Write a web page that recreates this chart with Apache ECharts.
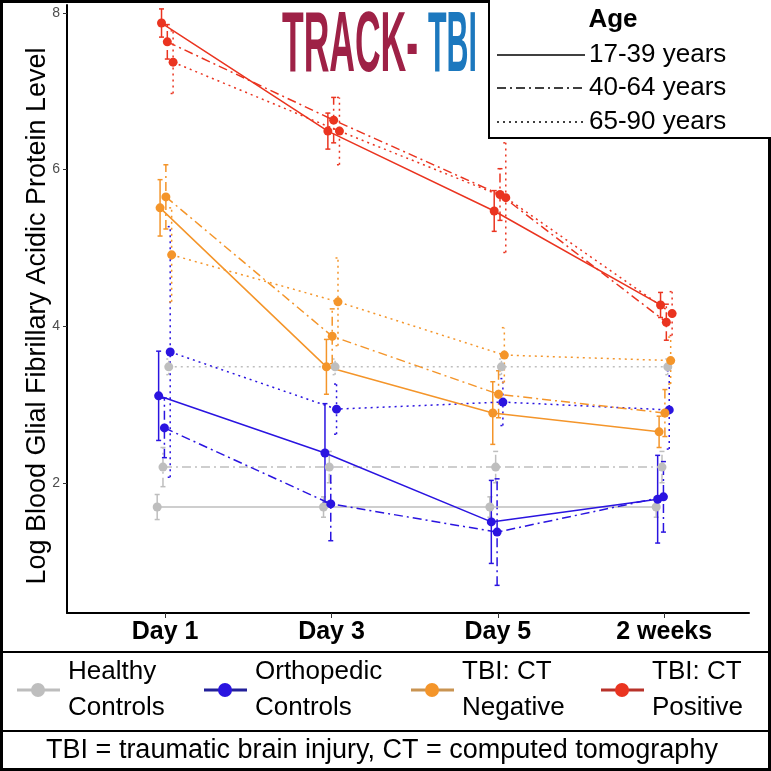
<!DOCTYPE html>
<html>
<head>
<meta charset="utf-8">
<script src="https://cdn.jsdelivr.net/npm/echarts@6/dist/echarts.min.js"></script>
<style>
  html, body { margin: 0; padding: 0; background: #fff; }
  #chart { width: 771px; height: 771px; }
</style>
</head>
<body>
<div id="chart"></div>
<script>
var days = ['Day 1', 'Day 3', 'Day 5', '2 weeks'];
var groups = ['Healthy\nControls', 'Orthopedic\nControls', 'TBI: CT\nNegative', 'TBI: CT\nPositive'];
var ages = ['17-39 years', '40-64 years', '65-90 years'];
var yTicks = [2, 4, 6, 8];
var yTitle = 'Log Blood Glial Fibrillary Acidic Protein Level';

// rows = age bands (17-39, 40-64, 65-90), columns = days
var healthyMean = [[1.69, 1.69, 1.69, 1.69], [2.20, 2.20, 2.20, 2.20], [3.48, 3.48, 3.48, 3.48]];
var healthyErr  = [[0.16, 0.13, 0.13, 0.13], [0.25, 0.20, 0.20, 0.20], [0.10, 0.10, 0.10, 0.10]];
var orthoMean   = [[3.11, 2.38, 1.50, 1.79], [2.70, 1.73, 1.37, 1.82], [3.67, 2.94, 3.03, 2.93]];
var orthoErr    = [[0.57, 0.63, 0.53, 0.56], [0.38, 0.47, 0.68, 0.45], [1.60, 0.32, 0.30, 0.50]];
var ctNegMean   = [[5.51, 3.48, 2.89, 2.65], [5.65, 3.87, 3.13, 2.89], [4.91, 4.31, 3.63, 3.56]];
var ctNegErr    = [[0.36, 0.35, 0.40, 0.20], [0.41, 0.35, 0.30, 0.30], [0.60, 0.56, 0.35, 0.30]];
var ctPosMean   = [[7.87, 6.49, 5.47, 4.27], [7.63, 6.63, 5.68, 4.05], [7.37, 6.49, 5.64, 4.16]];
var ctPosErr    = [[0.18, 0.23, 0.26, 0.16], [0.22, 0.29, 0.33, 0.23], [0.40, 0.43, 0.70, 0.28]];

var means = [healthyMean, orthoMean, ctNegMean, ctPosMean];
var errs = [healthyErr, orthoErr, ctNegErr, ctPosErr];
var colors = ['#BEBEBE', '#2A14E0', '#F4952A', '#EA3420'];
var keyLineColors = ['#BDBDBD', '#22209A', '#C99452', '#B8322A'];
var dashes = ['solid', [9, 4, 2, 4], [2, 4]];
var FONT = '"Liberation Sans", Arial, sans-serif';
var dodge = 0.0087;

var myChart = echarts.init(document.getElementById('chart'));

function errorBar(color, dash) {
    return function(params, api) {
        var x = api.value(0);
        var lo = api.coord([x, api.value(1)]);
        var hi = api.coord([x, api.value(2)]);
        var cw = 2.5;
        var st = { stroke: color, lineWidth: 1.5, lineDash: dash === 'solid' ? null : dash };
        return {
            type: 'group',
            children: [
                { type: 'line', shape: { x1: lo[0], y1: lo[1], x2: hi[0], y2: hi[1] }, style: st },
                { type: 'line', shape: { x1: lo[0] - cw, y1: lo[1], x2: lo[0] + cw, y2: lo[1] }, style: st },
                { type: 'line', shape: { x1: hi[0] - cw, y1: hi[1], x2: hi[0] + cw, y2: hi[1] }, style: st }
            ]
        };
    };
}

var series = [];
for (var g = 0; g < groups.length; g++) {
    for (var a = 0; a < ages.length; a++) {
        var off = (a * 4 + g - 5.5) * dodge;
        var lineData = [], barData = [];
        for (var i = 0; i < days.length; i++) {
            var m = means[g][a][i], e = errs[g][a][i];
            lineData.push([i + 1 + off, m]);
            barData.push([i + 1 + off, m - e, m + e]);
        }
        series.push({
            type: 'custom',
            renderItem: errorBar(colors[g], dashes[a]),
            encode: { x: 0, y: [1, 2] },
            data: barData,
            silent: true
        });
        series.push({
            type: 'line',
            name: groups[g] + ' ' + ages[a],
            data: lineData,
            symbol: 'circle',
            symbolSize: 9,
            itemStyle: { color: colors[g] },
            lineStyle: { color: colors[g], width: 1.5, type: dashes[a] },
            silent: true
        });
    }
}

function textWidth(str, font) {
    var ctx = document.createElement('canvas').getContext('2d');
    ctx.font = font;
    return ctx.measureText(str).width;
}

var logoFont = 'bold 86px ' + FONT;
var graphics = [
    // outer frame and dividers
    { type: 'rect', shape: { x: 1.5, y: 1.5, width: 768, height: 768 }, style: { fill: null, stroke: '#000', lineWidth: 3 } },
    { type: 'line', shape: { x1: 0, y1: 652, x2: 771, y2: 652 }, style: { stroke: '#000', lineWidth: 2 } },
    { type: 'line', shape: { x1: 0, y1: 731, x2: 771, y2: 731 }, style: { stroke: '#000', lineWidth: 2 } },
    // y title
    { type: 'text', x: 38, y: 316, rotation: Math.PI / 2,
      style: { text: yTitle, font: '27px ' + FONT, fill: '#000', textAlign: 'center', textVerticalAlign: 'middle' } },
    // logo
    { type: 'text', x: 282, y: 47, scaleX: 136 / textWidth('TRACK-', logoFont),
      style: { text: 'TRACK-', font: logoFont, fill: '#9E2146', textVerticalAlign: 'middle' } },
    { type: 'text', x: 428, y: 47, scaleX: 49 / textWidth('TBI', logoFont),
      style: { text: 'TBI', font: logoFont, fill: '#1C78BE', textVerticalAlign: 'middle' } },
    // age key
    { type: 'rect', shape: { x: 489, y: -2, width: 284, height: 140 }, style: { fill: '#fff', stroke: '#000', lineWidth: 2 } },
    { type: 'text', x: 613, y: 20, style: { text: 'Age', font: 'bold 26px ' + FONT, fill: '#000', textAlign: 'center', textVerticalAlign: 'middle' } }
];
var keyY = [55, 88, 122];
ages.forEach(function(name, k) {
    graphics.push({ type: 'line', shape: { x1: 497, y1: keyY[k], x2: 585, y2: keyY[k] },
        style: { stroke: '#000', lineWidth: 1.5, lineDash: dashes[k] === 'solid' ? null : dashes[k] } });
    graphics.push({ type: 'text', x: 589, y: keyY[k],
        style: { text: name, font: '26px ' + FONT, fill: '#000', textVerticalAlign: 'middle' } });
});
// group key
var keyX = [17, 204, 411, 601];
groups.forEach(function(name, k) {
    var x0 = keyX[k];
    graphics.push({ type: 'line', shape: { x1: x0, y1: 690, x2: x0 + 43, y2: 690 }, style: { stroke: keyLineColors[k], lineWidth: 3 } });
    graphics.push({ type: 'circle', shape: { cx: x0 + 21, cy: 690, r: 7 }, style: { fill: colors[k] } });
    graphics.push({ type: 'text', x: x0 + 51, y: 690,
        style: { text: name, font: '26px ' + FONT, fill: '#000', textVerticalAlign: 'middle', lineHeight: 36 } });
});
graphics.push({ type: 'text', x: 382, y: 751,
    style: { text: 'TBI = traumatic brain injury, CT = computed tomography', font: '27px ' + FONT, fill: '#000', textAlign: 'center', textVerticalAlign: 'middle' } });

var option = {
    animation: false,
    backgroundColor: '#fff',
    grid: { left: 67, right: 22, top: 5, bottom: 158 },
    xAxis: {
        type: 'value',
        min: 0.41,
        max: 4.51,
        splitLine: { show: false },
        axisLine: { lineStyle: { color: '#000', width: 2 } },
        axisTick: { customValues: [1, 2, 3, 4], length: 5, lineStyle: { color: '#333' } },
        axisLabel: {
            customValues: [1, 2, 3, 4],
            formatter: function(v) { return days[Math.round(v) - 1]; },
            fontWeight: 'bold', fontSize: 25, color: '#000', margin: 7, fontFamily: FONT
        }
    },
    yAxis: {
        type: 'value',
        min: 0.337,
        max: 8.1,
        splitLine: { show: false },
        axisLine: { show: true, lineStyle: { color: '#000', width: 2 } },
        axisTick: { show: true, customValues: yTicks, length: 4, lineStyle: { color: '#333' } },
        axisLabel: { customValues: yTicks, fontSize: 14, color: '#4D4D4D', margin: 7, fontFamily: FONT }
    },
    series: series,
    graphic: graphics
};

myChart.setOption(option, true);
</script>
</body>
</html>
